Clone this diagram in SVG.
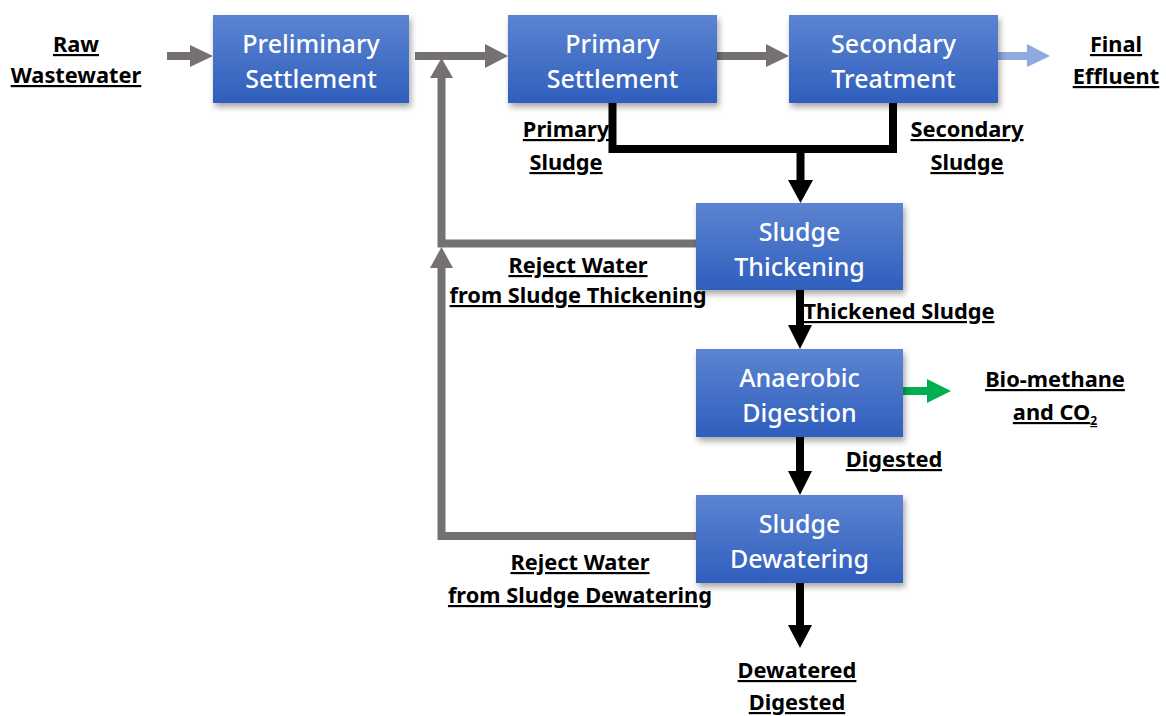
<svg xmlns="http://www.w3.org/2000/svg" width="1166" height="716" viewBox="0 0 1166 716">
  <style>
    .box { fill: url(#boxFill); filter: url(#shadow); }
    .btxt { font-family: "Noto Sans", "Open Sans", sans-serif; font-size: 25px; font-weight: 500; fill: #ffffff; text-anchor: middle; }
    .lbl { font-family: "Noto Sans", "Open Sans", sans-serif; font-size: 21.8px; font-weight: bold; fill: #000000; text-anchor: middle; text-decoration: underline; }
    .gray { stroke: #767171; stroke-width: 8; fill: none; }
    .blk { stroke: #000000; stroke-width: 8; fill: none; }
  </style>
  <defs>
    <linearGradient id="boxFill" x1="0" y1="0" x2="0" y2="1">
      <stop offset="0" stop-color="#5C84D1"/>
      <stop offset="1" stop-color="#2F5EBD"/>
    </linearGradient>
    <filter id="shadow" x="-10%" y="-10%" width="125%" height="130%">
      <feDropShadow dx="2" dy="4" stdDeviation="3" flood-color="#000000" flood-opacity="0.35"/>
    </filter>
  </defs>

  <rect width="1166" height="716" fill="#ffffff"/>

  <!-- connectors -->
  <g id="connectors">
    <!-- main water line -->
    <line class="gray" x1="167" y1="56" x2="191" y2="56"/>
    <polygon fill="#767171" points="190,45 213,56 190,67"/>
    <line class="gray" x1="415" y1="56" x2="486" y2="56"/>
    <polygon fill="#767171" points="485,44 508,56 485,68"/>
    <line class="gray" x1="717" y1="56" x2="767" y2="56"/>
    <polygon fill="#767171" points="766,44 789,56 766,67"/>
    <line stroke="#8FAADC" stroke-width="8" x1="998" y1="56" x2="1028" y2="56"/>
    <polygon fill="#8FAADC" points="1027,44 1050,56 1027,67"/>

    <!-- reject water returns -->
    <polyline class="gray" points="696,243.5 441.5,243.5 441.5,77"/>
    <polygon fill="#767171" points="430,78 441.5,58 453,78"/>
    <polyline class="gray" points="696,536 441.5,536 441.5,267"/>
    <polygon fill="#767171" points="430,268 441.5,247 453,268"/>

    <!-- sludge line -->
    <polyline class="blk" points="612.5,103 612.5,149 893,149 893,103"/>
    <line class="blk" x1="800.5" y1="149" x2="800.5" y2="181"/>
    <polygon fill="#000000" points="788,180 813,180 800.5,203"/>
    <line class="blk" x1="800" y1="290" x2="800" y2="326"/>
    <polygon fill="#000000" points="788,325 812,325 800,349"/>
    <line class="blk" x1="800" y1="437" x2="800" y2="472"/>
    <polygon fill="#000000" points="788,471 812,471 800,495"/>
    <line class="blk" x1="800" y1="583" x2="800" y2="626"/>
    <polygon fill="#000000" points="788,625 812,625 800,648"/>

    <!-- biogas -->
    <line stroke="#00B050" stroke-width="8" x1="903" y1="391" x2="928" y2="391"/>
    <polygon fill="#00B050" points="927,379 951,391 927,403"/>
  </g>

  <!-- process units -->
  <g id="preliminary-settlement">
    <rect class="box" x="213" y="15" width="196" height="88"/>
    <text class="btxt" x="311" y="53">Preliminary</text>
    <text class="btxt" x="311" y="88">Settlement</text>
  </g>
  <g id="primary-settlement">
    <rect class="box" x="508" y="15" width="209" height="88"/>
    <text class="btxt" x="612.5" y="53">Primary</text>
    <text class="btxt" x="612.5" y="88">Settlement</text>
  </g>
  <g id="secondary-treatment">
    <rect class="box" x="789" y="15" width="209" height="88"/>
    <text class="btxt" x="893.5" y="53">Secondary</text>
    <text class="btxt" x="893.5" y="88">Treatment</text>
  </g>
  <g id="sludge-thickening">
    <rect class="box" x="696" y="203" width="207" height="87"/>
    <text class="btxt" x="799.5" y="241">Sludge</text>
    <text class="btxt" x="799.5" y="276">Thickening</text>
  </g>
  <g id="anaerobic-digestion">
    <rect class="box" x="696" y="349" width="207" height="88"/>
    <text class="btxt" x="799.5" y="387">Anaerobic</text>
    <text class="btxt" x="799.5" y="422">Digestion</text>
  </g>
  <g id="sludge-dewatering">
    <rect class="box" x="696" y="495" width="207" height="88"/>
    <text class="btxt" x="799.5" y="533">Sludge</text>
    <text class="btxt" x="799.5" y="568">Dewatering</text>
  </g>

  <!-- stream labels -->
  <g id="labels">
    <text class="lbl" x="76" y="52">Raw</text>
    <text class="lbl" x="76" y="83">Wastewater</text>
    <text class="lbl" x="1116" y="52">Final</text>
    <text class="lbl" x="1116" y="84">Effluent</text>
    <text class="lbl" x="566" y="137">Primary</text>
    <text class="lbl" x="566" y="170">Sludge</text>
    <text class="lbl" x="967" y="137">Secondary</text>
    <text class="lbl" x="967" y="170">Sludge</text>
    <text class="lbl" x="578" y="273">Reject Water</text>
    <text class="lbl" x="578" y="303">from Sludge Thickening</text>
    <text class="lbl" x="899" y="319">Thickened Sludge</text>
    <text class="lbl" x="1055" y="387">Bio-methane</text>
    <text class="lbl" x="1055" y="420">and CO<tspan font-size="12" dy="5">2</tspan></text>
    <text class="lbl" x="894" y="467">Digested</text>
    <text class="lbl" x="580" y="570">Reject Water</text>
    <text class="lbl" x="580" y="603">from Sludge Dewatering</text>
    <text class="lbl" x="797" y="678">Dewatered</text>
    <text class="lbl" x="797" y="710">Digested</text>
  </g>
</svg>
